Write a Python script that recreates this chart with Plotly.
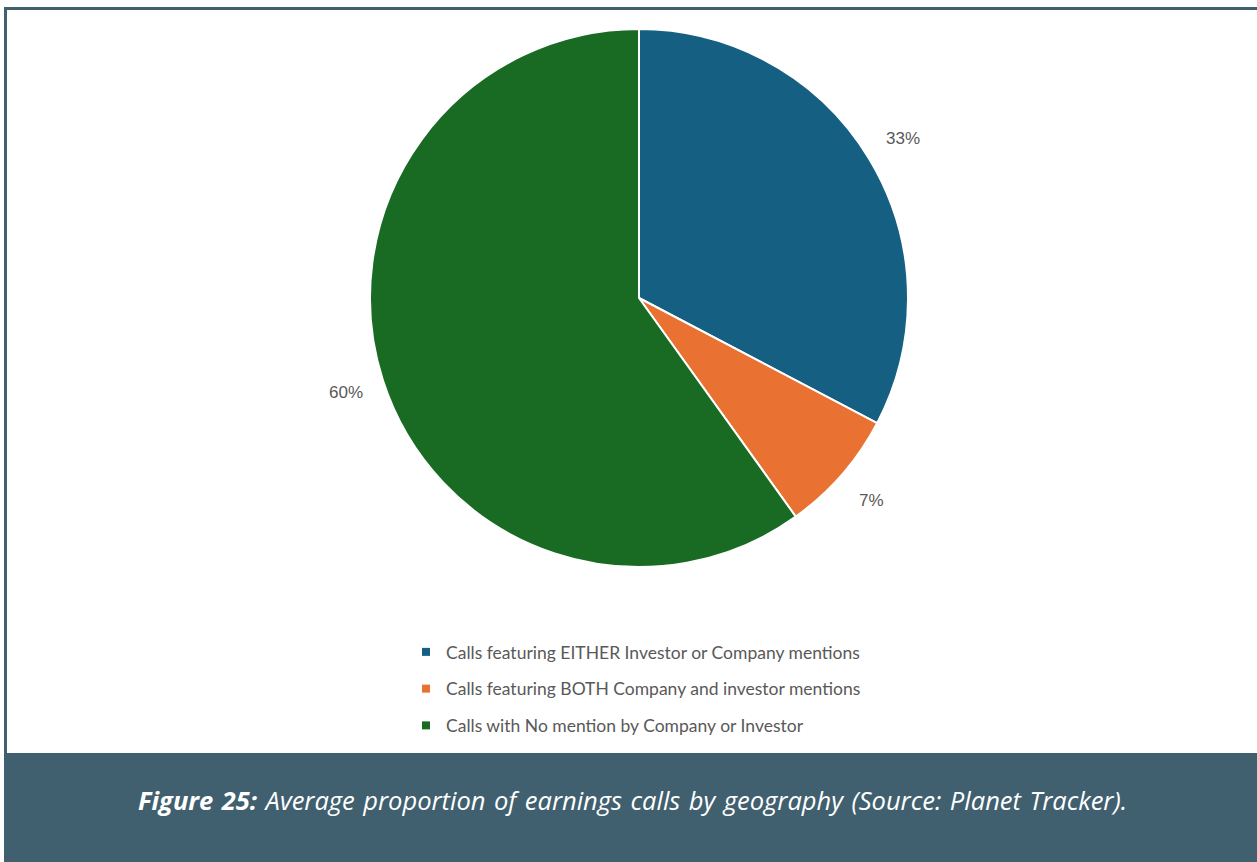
import math
import plotly.graph_objects as go

# ---- data ----
categories = [
    "Calls featuring EITHER Investor or Company mentions",
    "Calls featuring BOTH Company and investor mentions",
    "Calls with No mention by Company or Investor",
]
values = [32.7, 7.4, 59.9]
colors = ["#156082", "#E97132", "#196B24"]
caption_bold = "Figure 25:"
caption_rest = "Average proportion of earnings calls by geography (Source: Planet Tracker)."

W, H = 1257, 862
BANNER = "#405F6F"

# pie geometry (pixels)
cx, cy, R = 639, 298, 269


def px(x):
    return x / W


def py(y):
    return 1 - y / H


fig = go.Figure()
fig.add_trace(go.Pie(
    labels=categories,
    values=values,
    sort=False,
    direction="clockwise",
    rotation=0,
    marker=dict(colors=colors, line=dict(color="white", width=2)),
    textinfo="none",
    hoverinfo="label+percent",
    showlegend=False,
    domain=dict(x=[px(cx - R), px(cx + R)], y=[py(cy + R), py(cy - R)]),
))

# legend entries
for i, (c, col) in enumerate(zip(categories, colors)):
    fig.add_trace(go.Scatter(
        x=[None], y=[None], mode="markers", name=c,
        marker=dict(symbol="square", size=8, color=col),
        legendgroup=f"g{i}", showlegend=True,
    ))

# percentage labels placed outside slices
total = sum(values)
cum = 0
for v in values:
    mid = (cum + v / 2) / total * 2 * math.pi
    cum += v
    r = R + 39
    lx = cx + r * math.sin(mid)
    ly = cy - r * math.cos(mid)
    fig.add_annotation(
        x=px(lx), y=py(ly), xref="paper", yref="paper",
        text=f"{round(v / total * 100)}%", showarrow=False,
        font=dict(family="Liberation Sans, Arial", size=17, color="#595959"),
        xanchor="center", yanchor="middle",
    )

# frame lines and banner
fig.add_shape(type="rect", xref="paper", yref="paper",
              x0=px(4), x1=1, y0=py(10), y1=py(7),
              fillcolor=BANNER, line=dict(width=0), layer="below")
fig.add_shape(type="rect", xref="paper", yref="paper",
              x0=px(4), x1=px(7), y0=py(753), y1=py(7),
              fillcolor=BANNER, line=dict(width=0), layer="below")
fig.add_shape(type="rect", xref="paper", yref="paper",
              x0=px(4), x1=1, y0=0, y1=py(753),
              fillcolor=BANNER, line=dict(width=0), layer="below")

sp = "\u2004"
caption = f"<i><b>{sp.join(caption_bold.split(' '))}</b>{sp}{sp.join(caption_rest.split(' '))}</i>"
fig.add_annotation(
    x=px(632), y=py(800), xref="paper", yref="paper",
    text=caption, showarrow=False,
    font=dict(family="Open Sans", size=25.5, color="white"),
    xanchor="center", yanchor="middle",
)

fig.update_layout(
    width=W, height=H,
    margin=dict(l=0, r=0, t=0, b=0),
    paper_bgcolor="white", plot_bgcolor="white",
    xaxis=dict(visible=False), yaxis=dict(visible=False),
    legend=dict(
        x=px(406), y=py(634), xanchor="left", yanchor="top",
        font=dict(family="Lato", size=17.5, color="#595959"),
        tracegroupgap=11, bgcolor="rgba(0,0,0,0)",
    ),
)

fig.write_html(
    "out.html",
    config={"displayModeBar": False},
    post_script="document.body.style.margin='0';document.body.style.overflow='hidden';",
)
